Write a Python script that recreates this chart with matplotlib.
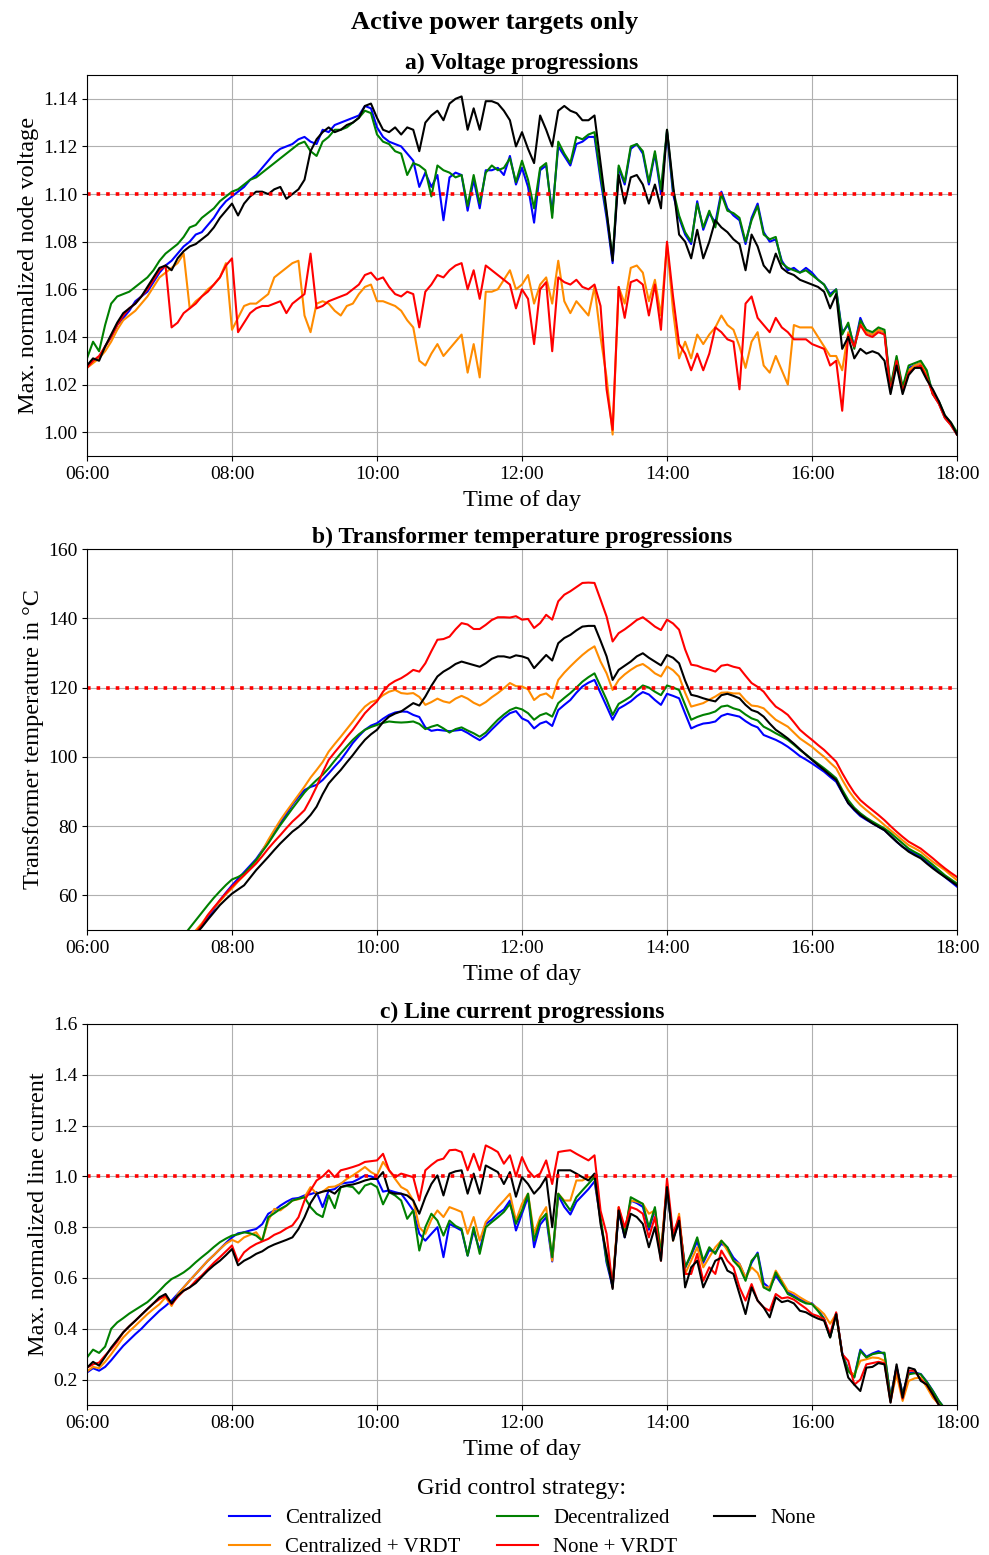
import numpy as np
import matplotlib
matplotlib.use("Agg")
import matplotlib.pyplot as plt

plt.rcParams['font.family'] = ['Liberation Serif', 'DejaVu Serif']

# ---------------- data ----------------
# 5-minute grid from 06:00 to 18:00 (hours)
minutes = np.arange(6 * 60, 18 * 60 + 1, 5)
time_h = minutes / 60.0

tick_pos = [6, 8, 10, 12, 14, 16, 18]
tick_labels = ["06:00", "08:00", "10:00", "12:00", "14:00", "16:00", "18:00"]

strategies = ["Centralized", "Centralized + VRDT", "Decentralized", "None + VRDT", "None"]
colors = ["blue", "darkorange", "green", "red", "black"]

# a) voltage
v_cent = [1.028,1.030,1.031,1.036,1.040,1.045,1.048,1.051,1.055,1.057,1.059,1.063,
          1.067,1.070,1.072,1.075,1.078,1.080,1.083,1.084,1.087,1.090,1.094,1.097,
          1.099,1.101,1.103,1.106,1.108,1.111,1.114,1.117,1.119,1.120,1.121,1.123,
          1.124,1.122,1.121,1.127,1.126,1.129,1.130,1.131,1.132,1.133,1.137,1.136,
          1.128,1.124,1.122,1.121,1.120,1.117,1.114,1.103,1.109,1.103,1.108,1.089,
          1.107,1.109,1.108,1.093,1.106,1.094,1.110,1.110,1.111,1.108,1.116,1.104,
          1.111,1.103,1.088,1.110,1.112,1.092,1.120,1.116,1.112,1.121,1.122,1.124,
          1.124,1.106,1.090,1.071,1.111,1.104,1.119,1.121,1.117,1.104,1.117,1.100,
          1.126,1.100,1.090,1.083,1.079,1.097,1.085,1.092,1.088,1.101,1.094,1.091,
          1.089,1.079,1.090,1.096,1.084,1.080,1.081,1.072,1.068,1.069,1.067,1.069,
          1.067,1.064,1.062,1.058,1.060,1.042,1.045,1.036,1.048,1.042,1.041,1.043,
          1.042,1.018,1.031,1.018,1.027,1.028,1.029,1.025,1.016,1.012,1.006,1.003,
          0.999]
v_cent_vrdt = [1.027,1.029,1.031,1.034,1.038,1.043,1.047,1.049,1.051,1.054,1.057,1.061,
               1.065,1.067,1.069,1.071,1.075,1.052,1.055,1.057,1.060,1.062,1.065,1.071,
               1.043,1.048,1.053,1.054,1.054,1.056,1.058,1.065,1.067,1.069,1.071,1.072,
               1.049,1.042,1.054,1.055,1.054,1.051,1.049,1.053,1.054,1.058,1.061,1.062,
               1.055,1.055,1.054,1.053,1.051,1.047,1.044,1.030,1.028,1.033,1.037,1.032,
               1.035,1.038,1.041,1.025,1.037,1.023,1.059,1.059,1.060,1.064,1.068,1.060,
               1.062,1.066,1.054,1.062,1.065,1.054,1.072,1.055,1.050,1.055,1.052,1.049,
               1.061,1.040,1.023,0.999,1.061,1.054,1.069,1.070,1.067,1.055,1.064,1.049,
               1.079,1.051,1.031,1.038,1.031,1.041,1.037,1.041,1.044,1.049,1.045,1.043,
               1.036,1.027,1.038,1.042,1.028,1.025,1.032,1.026,1.020,1.045,1.044,1.044,
               1.044,1.040,1.036,1.032,1.032,1.026,1.042,1.036,1.046,1.042,1.041,1.043,
               1.042,1.018,1.031,1.017,1.026,1.028,1.029,1.024,1.016,1.012,1.006,1.003,
               0.999]
v_decent = [1.031,1.038,1.034,1.045,1.054,1.057,1.058,1.059,1.061,1.063,1.065,1.068,
            1.072,1.075,1.077,1.079,1.082,1.086,1.087,1.090,1.092,1.094,1.097,1.099,
            1.101,1.102,1.104,1.106,1.107,1.109,1.111,1.113,1.115,1.117,1.119,1.121,
            1.122,1.118,1.116,1.122,1.124,1.127,1.127,1.128,1.130,1.132,1.135,1.134,
            1.125,1.122,1.121,1.118,1.117,1.108,1.113,1.112,1.110,1.099,1.112,1.110,
            1.109,1.107,1.108,1.095,1.108,1.096,1.109,1.112,1.110,1.111,1.115,1.105,
            1.114,1.106,1.094,1.111,1.113,1.090,1.122,1.117,1.113,1.124,1.123,1.125,
            1.126,1.108,1.092,1.073,1.112,1.105,1.120,1.121,1.118,1.105,1.118,1.102,
            1.127,1.102,1.091,1.084,1.080,1.096,1.086,1.093,1.086,1.100,1.093,1.092,
            1.090,1.080,1.089,1.095,1.083,1.081,1.082,1.071,1.069,1.068,1.067,1.068,
            1.066,1.064,1.062,1.057,1.060,1.041,1.046,1.035,1.047,1.043,1.042,1.044,
            1.043,1.019,1.032,1.019,1.028,1.029,1.030,1.026,1.016,1.013,1.007,1.004,
            1.000]
v_none_vrdt = [1.027,1.030,1.032,1.036,1.040,1.045,1.049,1.052,1.054,1.057,1.060,1.064,
               1.068,1.070,1.044,1.046,1.050,1.052,1.054,1.057,1.059,1.062,1.065,1.070,
               1.073,1.042,1.046,1.050,1.052,1.053,1.053,1.054,1.055,1.050,1.054,1.056,
               1.058,1.075,1.052,1.053,1.055,1.056,1.057,1.058,1.060,1.062,1.066,1.067,
               1.064,1.065,1.061,1.058,1.057,1.059,1.058,1.044,1.059,1.062,1.066,1.065,
               1.068,1.070,1.071,1.060,1.068,1.056,1.070,1.068,1.066,1.064,1.062,1.052,
               1.060,1.056,1.037,1.060,1.063,1.034,1.065,1.063,1.062,1.064,1.061,1.060,
               1.062,1.053,1.018,1.001,1.061,1.048,1.063,1.064,1.062,1.049,1.062,1.043,
               1.080,1.057,1.037,1.033,1.026,1.033,1.026,1.033,1.044,1.042,1.039,1.038,
               1.018,1.054,1.057,1.048,1.045,1.042,1.048,1.044,1.042,1.039,1.039,1.039,
               1.037,1.036,1.035,1.028,1.030,1.009,1.041,1.036,1.045,1.041,1.040,1.042,
               1.041,1.017,1.030,1.017,1.025,1.027,1.028,1.023,1.016,1.012,1.006,1.003,
               0.999]
v_none = [1.028,1.031,1.030,1.036,1.041,1.046,1.050,1.052,1.054,1.057,1.061,1.065,
          1.069,1.070,1.068,1.073,1.076,1.078,1.079,1.081,1.083,1.086,1.090,1.093,
          1.096,1.091,1.096,1.099,1.101,1.101,1.100,1.102,1.103,1.098,1.100,1.102,
          1.106,1.118,1.123,1.126,1.128,1.126,1.127,1.129,1.130,1.132,1.137,1.138,
          1.132,1.127,1.126,1.128,1.125,1.128,1.127,1.118,1.130,1.133,1.135,1.131,
          1.138,1.140,1.141,1.127,1.136,1.127,1.139,1.139,1.138,1.135,1.131,1.120,
          1.126,1.119,1.113,1.133,1.127,1.120,1.135,1.137,1.135,1.134,1.131,1.131,
          1.133,1.113,1.093,1.072,1.108,1.096,1.107,1.108,1.104,1.096,1.104,1.094,
          1.127,1.104,1.083,1.080,1.073,1.085,1.073,1.080,1.089,1.086,1.084,1.081,
          1.079,1.068,1.083,1.078,1.070,1.067,1.075,1.069,1.067,1.066,1.064,1.063,
          1.062,1.061,1.059,1.052,1.058,1.035,1.040,1.031,1.035,1.033,1.034,1.033,
          1.030,1.016,1.028,1.016,1.024,1.027,1.027,1.022,1.018,1.013,1.007,1.004,
          0.999]

# b) transformer temperature
t_cent = [20.0,21.3,22.6,24.0,25.4,26.9,28.4,30.0,31.6,33.3,35.0,36.8,
          38.0,39.8,41.7,43.6,45.6,47.5,49.5,51.4,53.5,56.0,58.6,60.8,
          62.9,64.8,66.7,68.6,70.5,73.0,75.5,78.2,80.8,83.5,86.2,88.4,
          90.4,91.3,91.9,93.3,95.2,97.2,99.1,101.5,104.0,106.0,107.8,109.0,
          109.7,111.0,112.1,112.8,113.1,113.0,112.1,111.5,108.5,107.5,107.8,107.6,
          107.4,107.6,107.8,106.9,105.8,104.8,106.1,107.9,109.6,111.3,112.6,113.2,
          111.1,110.3,108.2,109.6,110.2,108.9,113.5,115.0,116.4,118.5,120.3,121.4,
          122.2,118.4,114.6,110.7,113.9,114.9,116.0,117.5,118.7,118.0,116.4,115.0,
          118.2,117.6,116.9,112.5,108.2,109.0,109.6,109.8,110.2,111.8,112.4,112.0,
          111.6,110.3,109.2,108.5,106.3,105.6,104.9,104.0,102.9,101.6,100.2,99.2,
          98.1,96.9,95.7,94.2,92.8,89.7,86.6,84.6,82.9,81.8,80.8,79.8,
          78.8,77.2,75.5,74.0,73.0,72.0,71.1,69.6,68.2,66.8,65.3,63.9,
          62.5]
t_cent_vrdt = [20.0,21.3,22.6,23.9,25.3,26.8,28.3,29.9,31.6,33.3,35.1,36.9,
               38.7,40.5,42.3,44.2,46.1,48.0,49.9,51.9,54.3,56.4,58.2,60.3,
               62.0,64.0,65.8,67.8,69.7,72.8,76.0,78.9,81.7,84.2,86.6,89.0,
               91.4,94.0,96.2,98.5,101.5,103.7,105.8,108.0,110.2,112.5,114.5,115.8,
               116.4,117.8,118.8,119.3,118.4,118.2,118.4,117.3,115.0,115.8,116.8,116.0,
               115.6,116.8,117.6,116.8,115.6,114.8,115.8,117.2,118.4,119.8,121.3,120.4,
               120.3,119.5,116.4,117.8,118.3,116.9,122.2,124.3,126.1,127.8,129.4,130.8,
               131.9,127.5,124.1,119.3,122.2,123.8,125.1,126.2,126.8,125.6,124.1,123.2,
               126.1,125.0,123.2,118.5,114.5,115.0,115.5,116.5,117.4,118.5,118.6,118.3,
               118.3,116.3,114.8,114.6,114.0,112.3,110.7,109.7,108.7,107.0,105.3,104.1,
               102.9,101.4,100.0,98.3,96.7,93.4,90.4,88.0,86.1,84.6,83.2,81.8,
               80.3,78.8,77.4,75.9,74.5,73.6,72.6,71.1,69.7,68.5,67.3,65.8,
               64.4]
t_decent = [22.0,23.5,25.0,26.5,28.0,29.5,31.0,32.5,34.0,35.5,37.0,38.7,
            40.4,42.2,44.2,46.3,48.4,50.6,52.8,55.0,57.2,59.3,61.2,63.0,
            64.6,65.3,66.3,68.2,70.2,72.6,75.0,77.7,80.3,82.7,85.1,87.4,
            89.7,91.6,93.3,94.8,96.7,98.9,101.0,103.0,104.9,106.5,107.8,108.6,
            109.2,109.8,110.2,110.0,109.9,110.0,110.2,109.5,108.0,108.7,109.2,108.2,
            107.0,108.0,108.5,107.6,106.8,105.8,107.0,108.9,110.7,112.2,113.5,114.2,
            113.7,112.6,110.7,112.0,112.6,111.6,115.5,117.0,118.4,120.0,121.7,123.0,
            124.1,120.3,116.5,112.1,115.3,116.3,117.4,119.2,120.6,120.0,118.8,117.8,
            120.6,120.0,119.3,115.0,110.7,111.5,112.1,112.5,113.1,114.5,114.8,114.0,
            113.5,112.2,111.1,110.5,108.7,107.8,106.8,105.9,104.9,103.5,102.0,100.7,
            99.3,98.0,96.7,95.3,93.8,90.5,87.5,85.3,83.7,82.4,81.3,80.3,
            79.3,78.0,76.5,75.0,73.5,72.5,71.6,70.2,68.8,67.3,65.8,64.6,
            63.4]
t_none_vrdt = [20.0,21.2,22.5,23.8,25.2,26.7,28.2,29.8,31.4,33.1,34.8,36.6,
               38.4,40.2,42.0,43.8,45.6,47.4,49.2,51.5,54.3,56.5,58.6,60.6,
               62.5,64.2,65.8,67.5,69.2,71.3,73.5,75.5,77.4,79.4,81.3,82.9,
               84.6,87.8,91.4,95.5,99.1,101.3,103.4,105.7,107.8,110.2,112.6,114.4,
               116.0,118.8,120.8,121.9,122.7,123.8,125.1,124.6,127.0,130.5,133.8,134.0,
               134.7,136.8,138.6,138.2,136.9,136.9,138.1,139.5,140.3,140.3,140.2,140.6,
               139.6,139.8,137.2,138.6,141.0,139.6,144.9,146.8,147.8,149.0,150.2,150.3,
               150.2,145.4,140.5,133.3,135.7,136.8,138.1,139.5,140.3,139.0,137.6,136.6,
               139.6,138.5,136.7,131.0,126.6,126.3,125.6,125.2,124.6,126.3,126.6,126.0,
               125.6,123.4,121.3,120.2,118.8,116.5,114.5,113.4,112.1,110.0,107.8,106.3,
               104.9,103.4,102.0,100.3,98.6,95.3,92.3,89.6,87.5,86.0,84.6,83.2,
               81.7,80.0,78.4,76.9,75.5,74.5,73.5,72.1,70.7,69.2,67.8,66.5,
               65.3]
t_none = [20.0,21.2,22.4,23.7,25.0,26.4,27.8,29.3,30.8,32.4,34.0,35.7,
          37.4,39.2,41.0,42.9,44.8,46.8,48.8,50.8,53.0,55.1,57.2,58.9,
          60.5,61.7,62.9,65.1,67.3,69.2,71.1,73.1,75.0,76.7,78.4,79.7,
          81.3,83.2,85.6,89.2,92.3,94.3,96.2,98.4,100.5,102.8,104.9,106.5,
          107.8,110.0,111.6,112.5,113.1,114.3,115.5,114.8,117.4,120.5,123.2,124.6,
          125.6,126.8,127.5,127.0,126.5,126.0,127.0,128.3,129.0,129.0,128.6,129.3,
          129.0,128.4,125.6,127.5,129.4,127.8,132.8,134.3,135.2,136.5,137.6,137.8,
          137.8,133.5,129.0,122.2,125.1,126.3,127.5,129.0,129.9,128.6,127.5,126.4,
          129.4,128.6,127.0,122.0,117.9,117.5,116.9,116.4,116.0,117.8,118.2,117.6,
          116.9,115.0,113.5,112.9,111.6,109.6,107.8,106.6,105.3,103.8,102.2,100.6,
          99.1,97.6,96.2,94.7,93.3,89.8,86.6,84.8,83.2,82.0,80.8,79.8,
          78.8,77.1,75.5,74.0,72.6,71.6,70.7,69.2,67.8,66.5,65.3,64.1,
          62.9]

# c) line current
i_cent = [0.228,0.245,0.235,0.250,0.276,0.305,0.333,0.356,0.379,0.400,0.425,0.448,
          0.471,0.490,0.511,0.537,0.563,0.590,0.616,0.642,0.668,0.690,0.714,0.738,
          0.760,0.776,0.780,0.787,0.793,0.812,0.853,0.866,0.885,0.900,0.912,0.915,
          0.925,0.930,0.938,0.879,0.945,0.950,0.971,0.975,0.978,0.990,1.004,1.000,
          0.990,0.940,0.945,0.938,0.932,0.900,0.866,0.774,0.747,0.774,0.800,0.682,
          0.813,0.800,0.787,0.688,0.787,0.708,0.813,0.830,0.853,0.870,0.905,0.787,
          0.853,0.920,0.721,0.810,0.840,0.665,0.925,0.880,0.850,0.900,0.925,0.950,
          0.980,0.830,0.660,0.565,0.860,0.760,0.905,0.895,0.880,0.790,0.870,0.690,
          0.950,0.755,0.820,0.640,0.690,0.745,0.660,0.710,0.700,0.735,0.720,0.680,
          0.655,0.600,0.660,0.700,0.580,0.560,0.610,0.575,0.545,0.530,0.515,0.505,
          0.500,0.475,0.440,0.370,0.460,0.305,0.240,0.212,0.318,0.290,0.303,0.312,
          0.300,0.132,0.250,0.145,0.225,0.228,0.222,0.192,0.156,0.116,0.085,0.060,
          0.040]
i_cent_vrdt = [0.232,0.250,0.245,0.270,0.300,0.333,0.366,0.390,0.412,0.435,0.458,0.478,
               0.497,0.524,0.490,0.535,0.563,0.590,0.616,0.642,0.668,0.690,0.714,0.735,
               0.750,0.740,0.760,0.770,0.780,0.747,0.826,0.872,0.866,0.885,0.905,0.910,
               0.918,0.958,0.932,0.940,0.958,0.960,0.971,0.990,1.004,1.020,1.037,1.017,
               1.004,1.057,1.024,0.990,0.958,0.945,0.905,0.800,0.774,0.830,0.866,0.840,
               0.879,0.870,0.860,0.774,0.840,0.747,0.820,0.850,0.879,0.905,0.932,0.826,
               0.892,0.932,0.774,0.840,0.879,0.668,0.932,0.905,0.905,0.984,0.984,0.997,
               0.997,0.826,0.695,0.576,0.879,0.780,0.905,0.900,0.892,0.853,0.866,0.708,
               0.971,0.747,0.853,0.616,0.668,0.721,0.642,0.682,0.721,0.747,0.708,0.668,
               0.655,0.603,0.642,0.620,0.563,0.563,0.629,0.590,0.550,0.540,0.524,0.510,
               0.497,0.480,0.458,0.420,0.458,0.300,0.234,0.220,0.274,0.280,0.287,0.285,
               0.274,0.116,0.221,0.116,0.195,0.205,0.208,0.170,0.129,0.103,0.080,0.060,
               0.040]
i_decent = [0.287,0.318,0.305,0.330,0.400,0.425,0.442,0.460,0.475,0.490,0.505,0.527,
            0.550,0.575,0.596,0.608,0.622,0.640,0.662,0.682,0.701,0.722,0.741,0.755,
            0.767,0.772,0.780,0.776,0.767,0.747,0.839,0.855,0.872,0.885,0.905,0.912,
            0.918,0.879,0.853,0.840,0.925,0.875,0.958,0.962,0.958,0.932,0.964,0.972,
            0.958,0.890,0.938,0.925,0.905,0.833,0.866,0.708,0.800,0.853,0.826,0.767,
            0.826,0.805,0.793,0.688,0.800,0.695,0.800,0.820,0.839,0.860,0.892,0.813,
            0.866,0.932,0.747,0.826,0.853,0.682,0.932,0.900,0.866,0.918,0.945,0.971,
            0.997,0.840,0.668,0.576,0.866,0.770,0.918,0.905,0.892,0.800,0.879,0.695,
            0.958,0.760,0.826,0.642,0.695,0.760,0.668,0.721,0.695,0.747,0.721,0.668,
            0.642,0.589,0.668,0.695,0.563,0.550,0.622,0.580,0.537,0.525,0.511,0.500,
            0.497,0.470,0.438,0.366,0.458,0.300,0.234,0.208,0.313,0.287,0.300,0.305,
            0.306,0.129,0.247,0.142,0.221,0.225,0.221,0.190,0.155,0.116,0.085,0.060,
            0.040]
i_none_vrdt = [0.247,0.260,0.267,0.295,0.320,0.350,0.386,0.410,0.432,0.455,0.478,0.500,
               0.517,0.530,0.497,0.525,0.550,0.563,0.589,0.610,0.635,0.660,0.682,0.705,
               0.728,0.665,0.701,0.720,0.734,0.744,0.754,0.770,0.780,0.795,0.807,0.839,
               0.905,0.945,0.984,1.000,1.024,0.997,1.024,1.030,1.037,1.045,1.057,1.060,
               1.063,1.089,1.024,0.997,1.011,1.004,0.997,0.905,1.024,1.045,1.063,1.070,
               1.103,1.105,1.096,1.024,1.089,1.024,1.122,1.110,1.096,1.050,1.083,1.000,
               1.076,1.024,0.997,1.011,1.063,0.970,1.096,1.100,1.103,1.089,1.076,1.063,
               1.083,0.865,0.774,0.563,0.879,0.800,0.879,0.870,0.853,0.760,0.840,0.668,
               0.991,0.774,0.840,0.616,0.616,0.695,0.589,0.642,0.616,0.708,0.668,0.642,
               0.563,0.511,0.576,0.511,0.484,0.471,0.537,0.520,0.524,0.515,0.497,0.480,
               0.458,0.450,0.438,0.379,0.465,0.300,0.274,0.180,0.200,0.260,0.265,0.270,
               0.265,0.112,0.250,0.125,0.235,0.235,0.200,0.180,0.140,0.100,0.080,0.060,
               0.040]
i_none = [0.247,0.270,0.255,0.290,0.326,0.356,0.386,0.410,0.432,0.455,0.478,0.500,
          0.524,0.537,0.500,0.530,0.550,0.563,0.580,0.605,0.629,0.650,0.668,0.690,
          0.714,0.650,0.668,0.680,0.695,0.705,0.721,0.732,0.741,0.750,0.760,0.793,
          0.839,0.895,0.932,0.940,0.945,0.932,0.958,0.965,0.968,0.975,0.984,0.990,
          0.990,1.017,0.938,0.932,0.932,0.925,0.905,0.853,0.918,0.970,1.004,0.925,
          1.011,1.020,1.024,0.932,1.011,0.932,1.043,1.030,1.017,0.970,1.017,0.920,
          0.997,0.970,0.932,0.958,0.997,0.800,1.024,1.024,1.024,1.011,0.997,0.984,
          1.011,0.813,0.695,0.557,0.866,0.760,0.853,0.840,0.813,0.721,0.800,0.668,
          0.958,0.747,0.826,0.563,0.642,0.668,0.563,0.616,0.668,0.680,0.629,0.616,
          0.537,0.458,0.563,0.511,0.484,0.445,0.524,0.505,0.511,0.500,0.471,0.465,
          0.451,0.440,0.432,0.366,0.458,0.300,0.208,0.180,0.155,0.247,0.250,0.265,
          0.260,0.109,0.260,0.129,0.247,0.240,0.195,0.180,0.142,0.100,0.080,0.060,
          0.040]

panels = [
    dict(title="a) Voltage progressions", ylabel="Max. normalized node voltage",
         series=[v_cent, v_cent_vrdt, v_decent, v_none_vrdt, v_none],
         limit=1.10, ylim=(0.99, 1.15), yticks=[1.00, 1.02, 1.04, 1.06, 1.08, 1.10, 1.12, 1.14],
         fmt="{:.2f}"),
    dict(title="b) Transformer temperature progressions", ylabel="Transformer temperature in °C",
         series=[t_cent, t_cent_vrdt, t_decent, t_none_vrdt, t_none],
         limit=120, ylim=(50, 160), yticks=[60, 80, 100, 120, 140, 160], fmt="{:.0f}"),
    dict(title="c) Line current progressions", ylabel="Max. normalized line current",
         series=[i_cent, i_cent_vrdt, i_decent, i_none_vrdt, i_none],
         limit=1.0, ylim=(0.1, 1.6), yticks=[0.2, 0.4, 0.6, 0.8, 1.0, 1.2, 1.4, 1.6],
         fmt="{:.1f}"),
]

# ---------------- figure ----------------
W, H = 989, 1555
fig = plt.figure(figsize=(W / 100, H / 100), dpi=100)

ax_left, ax_right = 87 / W, 957 / W
tops = [75, 549, 1024]
ax_h = 381

fig.text(0.5, 1 - 22 / H, "Active power targets only", ha="center", va="center",
         fontsize=19, fontweight="bold")

lines = []
for p, top in zip(panels, tops):
    ax = fig.add_axes([ax_left, 1 - (top + ax_h) / H, ax_right - ax_left, ax_h / H])
    ax.grid(True, color="#b0b0b0", linewidth=0.8)
    ax.set_axisbelow(True)
    lines = []
    for vals, c, lab in zip(p["series"], colors, strategies):
        ln, = ax.plot(time_h, vals, color=c, linewidth=1.5, label=lab)
        lines.append(ln)
    ax.axhline(p["limit"], color="red", linestyle=":", linewidth=2.6)
    ax.set_xlim(6, 18)
    ax.set_ylim(*p["ylim"])
    ax.set_xticks(tick_pos)
    ax.set_xticklabels(tick_labels)
    ax.set_yticks(p["yticks"])
    ax.set_yticklabels([p["fmt"].format(v) for v in p["yticks"]])
    ax.tick_params(labelsize=14)
    ax.set_xlabel("Time of day", fontsize=17.5, labelpad=5)
    ax.set_ylabel(p["ylabel"], fontsize=17.5, labelpad=3)
    ax.set_title(p["title"], fontsize=17, fontweight="bold", pad=4)

leg = fig.legend(lines, strategies, loc="lower center", bbox_to_anchor=(522 / W, -0.0095),
                 ncol=3, frameon=False, fontsize=15, title="Grid control strategy:",
                 title_fontsize=17.5, columnspacing=1.75, handlelength=2.0,
                 handletextpad=0.7, labelspacing=0.45, borderaxespad=0.2)

fig.savefig("out.png", dpi=100)
